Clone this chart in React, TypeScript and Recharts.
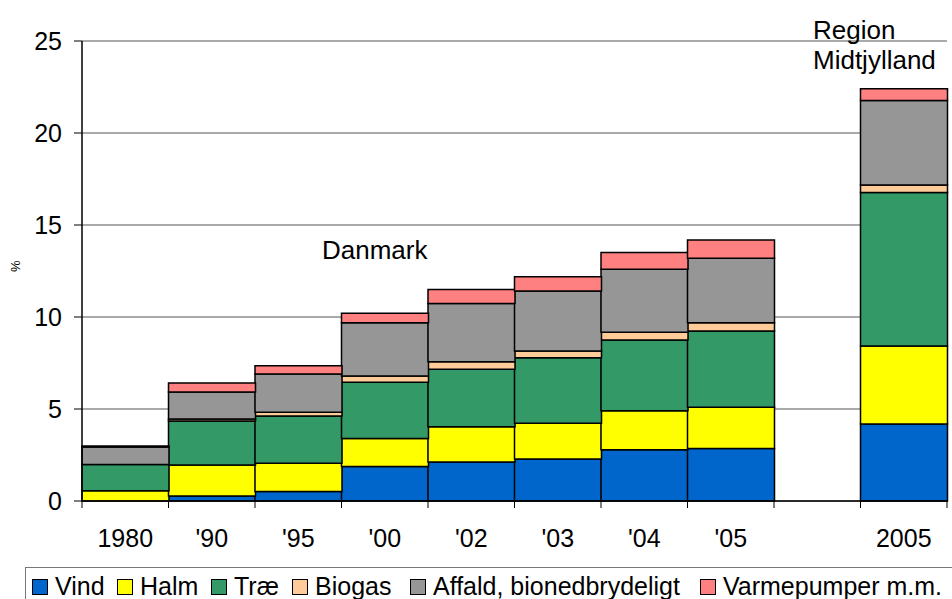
import React from 'react';
import { BarChart, Bar, XAxis, YAxis, CartesianGrid } from 'recharts';

const categories = ['1980', "'90", "'95", "'00", "'02", "'03", "'04", "'05", '', '2005'];
const vind = [0, 0.27, 0.51, 1.87, 2.12, 2.28, 2.79, 2.86, null, 4.18];
const halm = [0.56, 1.68, 1.54, 1.52, 1.92, 1.94, 2.12, 2.23, null, 4.24];
const trae = [1.43, 2.4, 2.57, 3.06, 3.12, 3.57, 3.84, 4.15, null, 8.34];
const biogas = [0, 0.1, 0.2, 0.34, 0.41, 0.36, 0.42, 0.45, null, 0.41];
const affald = [0.95, 1.47, 2.08, 2.9, 3.17, 3.26, 3.42, 3.5, null, 4.59];
const varme = [0.05, 0.49, 0.45, 0.51, 0.76, 0.78, 0.91, 0.99, null, 0.65];
const yTicks = [0, 5, 10, 15, 20, 25];

const series = [
  { key: 'vind', name: 'Vind', color: '#0066CC', values: vind },
  { key: 'halm', name: 'Halm', color: '#FFFF00', values: halm },
  { key: 'trae', name: 'Træ', color: '#339966', values: trae },
  { key: 'biogas', name: 'Biogas', color: '#FFCC99', values: biogas },
  { key: 'affald', name: 'Affald, bionedbrydeligt', color: '#969696', values: affald },
  { key: 'varme', name: 'Varmepumper m.m.', color: '#FF8080', values: varme },
];

// legend item left edges (layout)
const legendLeft = [32, 117, 211, 292, 410, 700];

const data = categories.map((c, i) => {
  const row: any = { name: c };
  series.forEach((s) => {
    row[s.key] = s.values[i];
  });
  return row;
});

const W = 952;
const H = 599;
const LEFT = 82;
const RIGHT = 5;
const BAND = (W - LEFT - RIGHT) / categories.length;
const FONT = '"Liberation Sans", Arial, sans-serif';

const XTick = (props: any) => {
  const { x, y, payload, index } = props;
  const half = BAND / 2;
  return (
    <g>
      <line x1={x - half} y1={y} x2={x - half} y2={y + 7} stroke="#000" strokeWidth={1} />
      {index === categories.length - 1 && (
        <line x1={x + half} y1={y} x2={x + half} y2={y + 7} stroke="#000" strokeWidth={1} />
      )}
      <text x={x} y={y + 46} textAnchor="middle" fontSize={25} fill="#000" fontFamily={FONT}>
        {payload.value}
      </text>
    </g>
  );
};

export default function App() {
  return (
    <div style={{ position: 'absolute', left: 0, top: 0, width: W, height: H, overflow: 'hidden', background: '#fff', fontFamily: FONT }}>
      <BarChart
        width={W}
        height={H}
        data={data}
        margin={{ top: 41, right: RIGHT, left: 0, bottom: 0 }}
        barCategoryGap={0}
        barGap={0}
      >
        <CartesianGrid vertical={false} stroke="#555" strokeWidth={1} />
        <XAxis
          dataKey="name"
          height={98}
          tickSize={0}
          tickMargin={0}
          tickLine={false}
          axisLine={{ stroke: '#000', strokeWidth: 1.5 }}
          tick={<XTick />}
          interval={0}
        />
        <YAxis
          width={LEFT}
          domain={[0, 25]}
          ticks={yTicks}
          tickSize={8}
          tickMargin={12}
          axisLine={{ stroke: '#000', strokeWidth: 1.5 }}
          tickLine={{ stroke: '#000' }}
          tick={{ fontSize: 25, fill: '#000', fontFamily: FONT }}
        />
        <YAxis
          yAxisId="r"
          orientation="right"
          width={0}
          domain={[0, 25]}
          tick={false}
          tickLine={false}
          axisLine={{ stroke: '#999' }}
        />
        {series.map((s) => (
          <Bar
            key={s.key}
            dataKey={s.key}
            name={s.name}
            stackId="a"
            fill={s.color}
            stroke="#000"
            strokeWidth={1.5}
            isAnimationActive={false}
          />
        ))}
      </BarChart>

      <div style={{ position: 'absolute', left: 9, top: 272, fontSize: 13, transform: 'rotate(-90deg)', transformOrigin: 'left top', lineHeight: '13px' }}>
        %
      </div>
      <div style={{ position: 'absolute', left: 322, top: 235, fontSize: 26, lineHeight: '30px' }}>Danmark</div>
      <div style={{ position: 'absolute', left: 813, top: 15, fontSize: 26, lineHeight: '30px' }}>
        Region
        <br />
        Midtjylland
      </div>

      <div
        style={{
          position: 'absolute',
          left: 25,
          top: 567,
          width: 960,
          height: 60,
          border: '1px solid #777',
          boxSizing: 'border-box',
        }}
      />
      {series.map((s, i) => (
        <React.Fragment key={s.key}>
          <span
            style={{
              position: 'absolute',
              left: legendLeft[i],
              top: 579,
              width: 16,
              height: 16,
              boxSizing: 'border-box',
              background: s.color,
              border: '1.5px solid #000',
            }}
          />
          <span
            style={{
              position: 'absolute',
              left: legendLeft[i] + 23,
              top: 571,
              fontSize: 25,
              lineHeight: '30px',
              whiteSpace: 'nowrap',
            }}
          >
            {s.name}
          </span>
        </React.Fragment>
      ))}
    </div>
  );
}
